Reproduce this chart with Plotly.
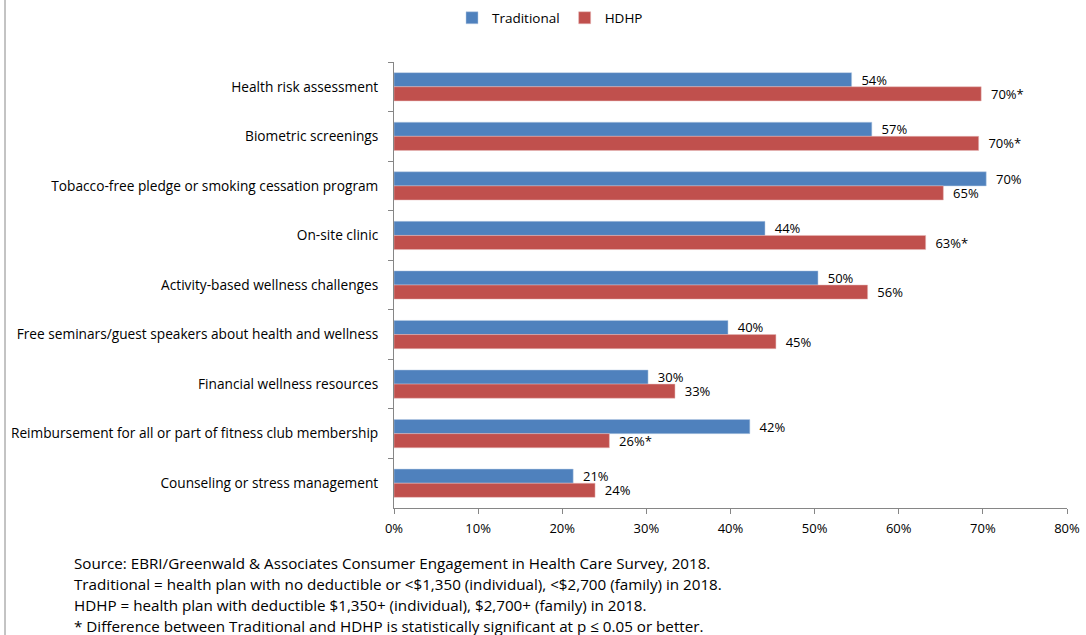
import plotly.graph_objects as go

categories = [
    "Health risk assessment",
    "Biometric screenings",
    "Tobacco-free pledge or smoking cessation program",
    "On-site clinic",
    "Activity-based wellness challenges",
    "Free seminars/guest speakers about health and wellness",
    "Financial wellness resources",
    "Reimbursement for all or part of fitness club membership",
    "Counseling or stress management",
]
traditional = [54.4, 56.8, 70.4, 44.1, 50.4, 39.7, 30.2, 42.3, 21.3]
hdhp = [69.8, 69.5, 65.3, 63.2, 56.3, 45.4, 33.4, 25.6, 23.9]
traditional_labels = ["54%", "57%", "70%", "44%", "50%", "40%", "30%", "42%", "21%"]
hdhp_labels = ["70%*", "70%*", "65%", "63%*", "56%", "45%", "33%", "26%*", "24%"]
x_ticks = [0, 10, 20, 30, 40, 50, 60, 70, 80]
x_tick_labels = ["0%", "10%", "20%", "30%", "40%", "50%", "60%", "70%", "80%"]
footnotes = [
    "Source: EBRI/Greenwald &amp; Associates Consumer Engagement in Health Care Survey, 2018.",
    "Traditional = health plan with no deductible or &lt;$1,350 (individual), &lt;$2,700 (family) in 2018.",
    "HDHP = health plan with deductible $1,350+ (individual), $2,700+ (family) in 2018.",
    "* Difference between Traditional and HDHP is statistically significant at p ≤ 0.05 or better.",
]

FONT = "'Open Sans', sans-serif"
W, H = 1086, 635
L, R, T, B = 394, 19, 62, 127
pw, ph = W - L - R, H - T - B

def px_x(p):
    return (p - L) / pw

def px_y(p):
    return (H - B - p) / ph

PAD = "\u00a0\u00a0"

fig = go.Figure()
fig.add_trace(go.Bar(
    y=categories, x=traditional, orientation="h", name="Traditional",
    marker=dict(color="#4F81BD", line=dict(color="#B9CDE5", width=0.5)),
    text=traditional_labels, texttemplate=PAD + "%{text}", textposition="outside",
    cliponaxis=False, constraintext="none",
    textfont=dict(family=FONT, size=13, color="#000000"),
))
fig.add_trace(go.Bar(
    y=categories, x=hdhp, orientation="h", name="HDHP",
    marker=dict(color="#C0504D", line=dict(color="#E6B9B8", width=0.5)),
    text=hdhp_labels, texttemplate=PAD + "%{text}", textposition="outside",
    cliponaxis=False, constraintext="none",
    textfont=dict(family=FONT, size=13, color="#000000"),
))

annotations = []
for i, line in enumerate(footnotes):
    annotations.append(dict(
        text=line, xref="paper", yref="paper", x=px_x(72), y=px_y(563 + 21 * i),
        xanchor="left", yanchor="middle", showarrow=False,
        font=dict(family=FONT, size=15.2, color="#000000"),
    ))

fig.update_layout(
    width=W, height=H,
    margin=dict(l=L, r=R, t=T, b=B, autoexpand=False),
    paper_bgcolor="white", plot_bgcolor="white",
    barmode="group", bargap=0.43, bargroupgap=0.0,
    font=dict(family=FONT, size=13, color="#000000"),
    legend=dict(orientation="h", x=px_x(550), xanchor="center", y=px_y(18), yanchor="middle",
                font=dict(family=FONT, size=13.5), itemwidth=30, traceorder="normal",
                tracegroupgap=0),
    annotations=annotations,
    shapes=[dict(type="line", xref="paper", yref="paper", x0=px_x(5), x1=px_x(5),
                 y0=px_y(0), y1=px_y(635), line=dict(color="#888888", width=1))],
    xaxis=dict(range=[0, 80], tickvals=x_ticks, ticktext=x_tick_labels,
               showgrid=False, zeroline=False, showline=True, linecolor="#868686",
               ticks="outside", ticklen=5, tickcolor="#868686", ticklabelstandoff=3,
               tickfont=dict(family=FONT, size=13)),
    yaxis=dict(autorange="reversed", showgrid=False, showline=True, linecolor="#868686",
               ticks="outside", ticklen=5, tickcolor="#868686", tickson="boundaries",
               ticklabelstandoff=12, tickfont=dict(family=FONT, size=13.7)),
)

fig.write_html("out.html", config={"displayModeBar": False},
               post_script="document.body.style.margin='0';")
